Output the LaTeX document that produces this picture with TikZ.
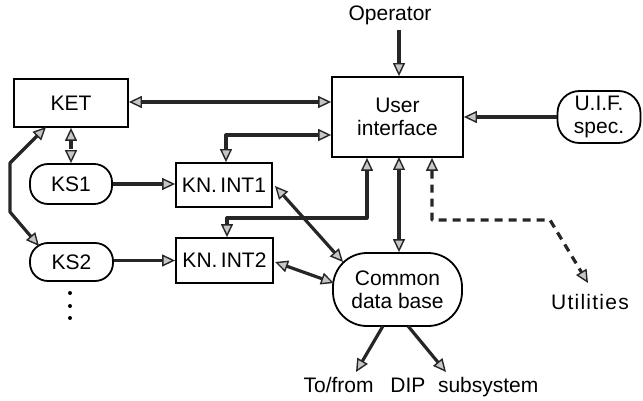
\documentclass[tikz,border=0pt]{standalone}
\usepackage{fontspec}
\setmainfont{Liberation Sans}
\usetikzlibrary{arrows.meta,calc}
\begin{document}
\begin{tikzpicture}[x=1pt,y=-1pt,
  every node/.style={font=\fontsize{21}{23}\selectfont, inner sep=0pt},
  boxnode/.style={draw, line width=1.8pt, rectangle},
  pillnode/.style={draw, line width=1.8pt, rectangle, rounded corners=18pt},
  con/.style={line width=3.2pt, draw=black!85, line join=round},
  arr/.style={con, -{Triangle[length=13pt, width=12pt, fill=gray!45, line width=1.4pt]}},
  darr/.style={con, {Triangle[length=13pt, width=12pt, fill=gray!45, line width=1.4pt]}-{Triangle[length=13pt, width=12pt, fill=gray!45, line width=1.4pt]}},
  dsh/.style={dash pattern=on 8pt off 6pt}
]
\useasboundingbox (0,0) rectangle (643,401);

% nodes
\node[boxnode, minimum width=114pt, minimum height=48pt] (ket) at (71,103) {KET};
\node[boxnode, minimum width=131pt, minimum height=80pt, align=center] (ui) at (397.5,117) {User\\interface};
\node[pillnode, minimum width=83pt, minimum height=52pt, rounded corners=22pt, align=center] (uif) at (599,117) {U.I.F.\\spec.};
\node[pillnode, minimum width=82pt, minimum height=40pt] (ks1) at (71,184) {KS1};
\node[pillnode, minimum width=83pt, minimum height=38pt] (ks2) at (71.5,262) {KS2};
\node[boxnode, minimum width=96pt, minimum height=44pt] (kn1) at (224,185) {KN.\,INT1};
\node[boxnode, minimum width=97pt, minimum height=45pt] (kn2) at (224.5,260.5) {KN.\,INT2};
\node[pillnode, minimum width=129pt, minimum height=73pt, rounded corners=34pt, align=center] (cdb) at (397.5,289.5) {Common\\data base};
\node (op) at (390,15) {Operator};
\node (util) at (590,302) {\addfontfeature{LetterSpace=6}Utilities};
\node (dip) at (421,387) {To/from\hspace{0.8em}DIP\hspace{0.6em}subsystem};

% dots under KS2
\foreach \yy in {293,306,318} \fill (70,\yy) circle (2pt);

% coordinates
\coordinate (opb) at (399,30);
\coordinate (c1) at (226,135);
\coordinate (c2) at (367,218);
\coordinate (c3) at (227,218);
\coordinate (c4) at (432,220);
\coordinate (c5) at (550,220);
\coordinate (utip) at (588,283);
\coordinate (ketbl) at (46,127);
\coordinate (l1) at (10,163);
\coordinate (l2) at (10,212);
\coordinate (ks2tip) at (39,246);
\coordinate (kn1e) at (275,186);
\coordinate (cdbnw) at (343,262);
\coordinate (kn2e) at (275,262);
\coordinate (cdbw) at (334,283);
\coordinate (cdbs1) at (383,326);
\coordinate (cdbs2) at (408,326);
\coordinate (dipl) at (356,372);
\coordinate (dipr) at (446,372);

% connectors
\draw[arr] (opb) -- (opb |- ui.north);
\draw[darr] (ket.east |- 0,102) -- (ui.west |- 0,102);
\draw[arr] (uif.west) -- (ui.east);
\draw[darr] (ui.west |- c1) -- (c1) -- (c1 |- kn1.north);
\draw[arr] (ks1.east) -- (ks1.east -| kn1.west);
\draw[arr] (ks2.east |- kn2.west) -- (kn2.west);
\draw[darr, dsh] (ket.south) -- (ks1.north);
\draw[darr] (ketbl) -- (l1) -- (l2) -- (ks2tip);
\draw[darr] (c2 |- ui.south) -- (c2) -- (c3) -- (c3 |- kn2.north);
\draw[darr] (399,157) -- (cdb.north -| 399,0);
\draw[darr, dsh] (c4 |- ui.south) -- (c4) -- (c5) -- (utip);
\draw[darr] (kn1e) -- (cdbnw);
\draw[darr] (kn2e) -- (cdbw);
\draw[arr] (cdbs1) -- (dipl);
\draw[arr] (cdbs2) -- (dipr);
\end{tikzpicture}
\end{document}
